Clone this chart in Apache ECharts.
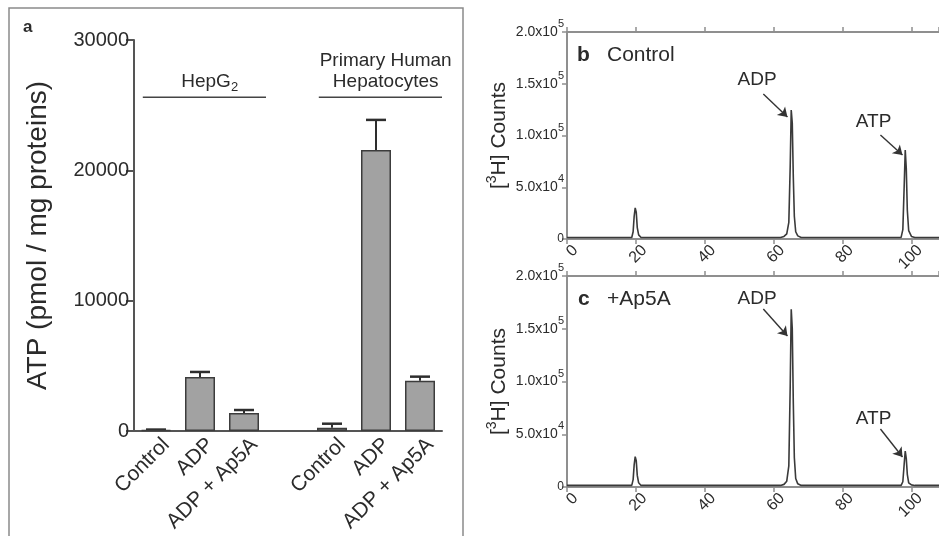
<!DOCTYPE html>
<html><head><meta charset="utf-8">
<script src="https://cdn.jsdelivr.net/npm/echarts@6/dist/echarts.min.js"></script>
<style>html,body{margin:0;padding:0;background:#fff}#c{width:939px;height:536px}</style>
</head><body><div id="c"></div>
<script>
// ---- Panel a: ATP bars ----
const categories = ['Control', 'ADP', 'ADP + Ap5A', '', 'Control', 'ADP', 'ADP + Ap5A'];
const atpMean  = [80, 4140, 1380, null, 250, 21560, 3860];
const atpUpper = [110, 4530, 1610, null, 560, 23870, 4170];
const atpTicks = [0, 10000, 20000, 30000];
const groupNames = ['HepG{sub|2}', 'Primary Human\nHepatocytes'];
const groupFirst = [0, 4];
const groupLast = [2, 6];
const groupLineLevel = 25600;

// ---- Panels b, c: radio-chromatograms ----
const elutionTime   = [0, 18.8, 19.2, 19.5, 19.8, 20.1, 20.4, 20.8, 21.5, 62.0, 63.0, 63.8, 64.4, 64.8, 65.1, 65.4, 65.7, 66.0, 66.4, 67.0, 68.0, 97.0, 97.5, 97.9, 98.2, 98.5, 98.8, 99.2, 100.0, 101.0, 108];
const countsControl = [1500, 1500, 7000, 22000, 30000, 26000, 11000, 4000, 1500, 1500, 2500, 5000, 16000, 70000, 124600, 112000, 60000, 22000, 7000, 3000, 1500, 1500, 9000, 52000, 86000, 68000, 28000, 8000, 2500, 1500, 1500];
const countsAp5A    = [1500, 1500, 7000, 21000, 28700, 25000, 11000, 4000, 1500, 1500, 2500, 5500, 20000, 95000, 168400, 150000, 80000, 28000, 8000, 3000, 1500, 1500, 5000, 22000, 34100, 27000, 12000, 4000, 2000, 1500, 1500];
const timeTicks = [0, 20, 40, 60, 80, 100];
const timeMax = 108;
const countTicks = [0, 50000, 100000, 150000, 200000];
const peakNames = ['ADP', 'ATP'];
const labelAtControl = [[55.2, 153600], [89, 113000]];
const arrowFromControl = [[57, 140100], [91, 100500]];
const arrowToControl = [[64, 117900], [97.4, 81200]];
const labelAtAp5A = [[55.2, 178200], [89, 64500]];
const arrowFromAp5A = [[57, 168700], [91, 55000]];
const arrowToAp5A = [[64, 143100], [97.4, 28400]];

const FONT = "'Liberation Sans', Arial, sans-serif";
const TXT = '#2b2b2b';
const AX_A = '#555';
const AX_R = '#8f8f8f';

const chart = echarts.init(document.getElementById('c'), null, {renderer: 'canvas'});

function sciLabel(v) {
  if (v === 0) return '0';
  const e = Math.floor(Math.log10(v) + 1e-9);
  const m = (v / Math.pow(10, e)).toFixed(1);
  return '{m|' + m + 'x10}{e|' + e + '}';
}
const sciRich = {
  m: {fontSize: 14, color: TXT, fontFamily: FONT},
  e: {fontSize: 11, color: TXT, fontFamily: FONT, verticalAlign: 'bottom', padding: [0, 0, 16, 0]}
};

function timeAxes(grid) {
  const common = {
    type: 'value', gridIndex: grid, min: timeTicks[0], max: timeMax,
    interval: timeTicks[1] - timeTicks[0], splitLine: {show: false},
    axisLine: {show: true, onZero: false, lineStyle: {color: AX_R, width: 2}},
    axisTick: {show: true, length: 5, lineStyle: {color: AX_R, width: 1.5}}
  };
  return [
    Object.assign({}, common, {position: 'bottom',
      axisLabel: {rotate: 45, fontSize: 16, color: TXT, fontFamily: FONT, margin: 6,
        verticalAlign: 'top', padding: [0, -4, 0, 0], showMaxLabel: false}}),
    Object.assign({}, common, {position: 'top', axisLabel: {show: false}})
  ];
}
function countAxis(grid) {
  return {
    type: 'value', gridIndex: grid, min: countTicks[0], max: countTicks[countTicks.length - 1],
    interval: countTicks[1] - countTicks[0], splitLine: {show: false},
    axisLine: {show: true, lineStyle: {color: AX_R, width: 2}},
    axisTick: {show: true, length: 5, lineStyle: {color: AX_R, width: 1.5}},
    axisLabel: {formatter: sciLabel, rich: sciRich, margin: 3, color: TXT},
    name: '{n|[}{s|3}{n|H] Counts}', nameLocation: 'middle', nameGap: 54,
    nameTextStyle: {rich: {
      n: {fontSize: 21, color: TXT, fontFamily: FONT},
      s: {fontSize: 14, color: TXT, fontFamily: FONT, verticalAlign: 'bottom', padding: [0, 0, 14, 0]}
    }}
  };
}
function traceSeries(xIdx, yIdx, counts, labelAt, from, to) {
  return {
    type: 'line', xAxisIndex: xIdx, yAxisIndex: yIdx,
    data: elutionTime.map((t, i) => [t, counts[i]]),
    symbol: 'none', lineStyle: {color: '#3a3a3a', width: 1.6}, silent: true,
    markLine: {
      silent: true, symbol: ['none', 'arrow'], symbolSize: 9,
      lineStyle: {color: '#333', width: 1.4, type: 'solid'}, label: {show: false},
      data: from.map((f, i) => [{coord: f}, {coord: to[i]}])
    },
    markPoint: {
      silent: true, symbol: 'circle', symbolSize: 0,
      label: {show: true, position: 'inside', formatter: p => p.name, fontSize: 19, color: TXT, fontFamily: FONT},
      data: labelAt.map((c, i) => ({name: peakNames[i], coord: c}))
    }
  };
}

const option = {
  animation: false,
  textStyle: {fontFamily: FONT},
  grid: [
    {left: 134, top: 40, width: 308, height: 391},
    {left: 567, top: 32, right: 0, height: 207},
    {left: 567, top: 276, right: 0, height: 211}
  ],
  xAxis: [
    {
      type: 'category', gridIndex: 0, data: categories,
      axisLine: {lineStyle: {color: AX_A, width: 2}},
      axisTick: {alignWithLabel: true, length: 7, interval: (i, v) => v !== '', lineStyle: {color: AX_A, width: 2}},
      axisLabel: {rotate: 45, interval: 0, fontSize: 21, color: TXT, fontFamily: FONT, margin: 6,
        verticalAlign: 'top', padding: [0, -4, 0, 0]}
    },
    ...timeAxes(1),
    ...timeAxes(2)
  ],
  yAxis: [
    {
      type: 'value', gridIndex: 0, min: atpTicks[0], max: atpTicks[atpTicks.length - 1],
      interval: atpTicks[1] - atpTicks[0], splitLine: {show: false},
      axisLine: {show: true, lineStyle: {color: AX_A, width: 2}},
      axisTick: {show: true, length: 8, lineStyle: {color: AX_A, width: 2}},
      axisLabel: {fontSize: 20, color: TXT, fontFamily: FONT, margin: 5, formatter: v => String(v)},
      name: 'ATP (pmol / mg proteins)', nameLocation: 'middle', nameGap: 82,
      nameTextStyle: {fontSize: 28, color: TXT, fontFamily: FONT}
    },
    countAxis(1),
    countAxis(2)
  ],
  series: [
    {
      type: 'bar', xAxisIndex: 0, yAxisIndex: 0, data: atpMean, barWidth: 30,
      itemStyle: {color: '#a2a2a2', borderColor: '#3c3c3c', borderWidth: 1.5}, silent: true
    },
    {
      type: 'custom', xAxisIndex: 0, yAxisIndex: 0, silent: true,
      data: atpMean.map((m, i) => [i, m, atpUpper[i]]).filter(d => d[1] != null),
      encode: {x: 0, y: [1, 2]},
      renderItem: function (params, api) {
        const top = api.coord([api.value(0), api.value(1)]);
        const up = api.coord([api.value(0), api.value(2)]);
        const s = {stroke: '#2e2e2e', lineWidth: 2};
        return {type: 'group', children: [
          {type: 'line', shape: {x1: top[0], y1: top[1], x2: up[0], y2: up[1]}, style: s},
          {type: 'line', shape: {x1: up[0] - 10, y1: up[1], x2: up[0] + 10, y2: up[1]}, style: {stroke: '#2e2e2e', lineWidth: 2.5}}
        ]};
      }
    },
    {
      type: 'custom', xAxisIndex: 0, yAxisIndex: 0, silent: true,
      data: groupFirst.map((f, i) => [f, groupLast[i], groupLineLevel, i]),
      encode: {x: [0, 1], y: 2},
      renderItem: function (params, api) {
        const band = api.size([1, 0])[0];
        const p0 = api.coord([api.value(0), api.value(2)]);
        const p1 = api.coord([api.value(1), api.value(2)]);
        const x0 = p0[0] - 0.3 * band, x1 = p1[0] + 0.5 * band;
        return {type: 'group', children: [
          {type: 'line', shape: {x1: x0, y1: p0[1], x2: x1, y2: p0[1]}, style: {stroke: '#444', lineWidth: 1.5}},
          {type: 'text', x: (x0 + x1) / 2 + 0.12 * band, y: p0[1] - 5, style: {
            text: groupNames[api.value(3)], align: 'center', verticalAlign: 'bottom',
            fontSize: 19, fontFamily: FONT, fill: TXT, lineHeight: 21,
            rich: {sub: {fontSize: 13, fontFamily: FONT, fill: TXT, color: TXT, verticalAlign: 'top', padding: [10, 0, 0, 0]}}
          }}
        ]};
      }
    },
    traceSeries(1, 1, countsControl, labelAtControl, arrowFromControl, arrowToControl),
    traceSeries(3, 2, countsAp5A, labelAtAp5A, arrowFromAp5A, arrowToAp5A)
  ],
  graphic: [
    {type: 'rect', shape: {x: 9, y: 8, width: 454, height: 545}, style: {fill: 'none', stroke: '#8a8a8a', lineWidth: 1.5}, silent: true},
    {type: 'text', x: 23, y: 27, style: {text: 'a', fontSize: 17, fontWeight: 'bold', fontFamily: FONT, fill: TXT, verticalAlign: 'middle'}},
    {type: 'text', x: 577, y: 55, style: {text: 'b', fontSize: 21, fontWeight: 'bold', fontFamily: FONT, fill: TXT, verticalAlign: 'middle'}},
    {type: 'text', x: 607, y: 55, style: {text: 'Control', fontSize: 21, fontFamily: FONT, fill: TXT, verticalAlign: 'middle'}},
    {type: 'text', x: 578, y: 299, style: {text: 'c', fontSize: 21, fontWeight: 'bold', fontFamily: FONT, fill: TXT, verticalAlign: 'middle'}},
    {type: 'text', x: 607, y: 299, style: {text: '+Ap5A', fontSize: 21, fontFamily: FONT, fill: TXT, verticalAlign: 'middle'}}
  ]
};
chart.setOption(option);
</script>
</body></html>
